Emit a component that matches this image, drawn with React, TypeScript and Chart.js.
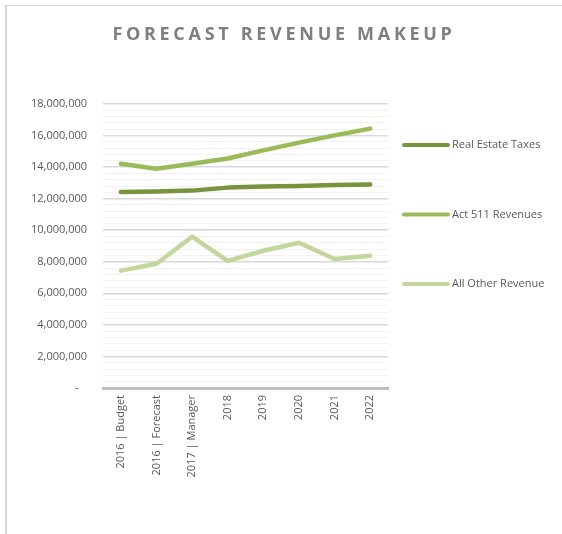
import React, { useEffect, useRef } from "react";
import { Chart, registerables } from "chart.js";

Chart.register(...registerables);

const categories = [
  "2016 | Budget",
  "2016 | Forecast",
  "2017 | Manager",
  "2018",
  "2019",
  "2020",
  "2021",
  "2022",
];
const realEstateTaxes = [12430000, 12450000, 12510000, 12700000, 12770000, 12810000, 12870000, 12890000];
const act511Revenues = [14210000, 13890000, 14210000, 14550000, 15060000, 15550000, 16010000, 16440000];
const allOtherRevenue = [7440000, 7870000, 9590000, 8060000, 8700000, 9210000, 8180000, 8380000];
const seriesNames = ["Real Estate Taxes", "Act 511 Revenues", "All Other Revenue"];
const seriesColors = ["#77933C", "#9BBB59", "#C3D69B"];
const yMax = 18000000;
const yMajorStep = 2000000;
const yMinorStep = 400000;
const titleText = "FORECAST REVENUE MAKEUP";

const FONT = "'Open Sans', sans-serif";

const titlePlugin = {
  id: "customTitle",
  afterDraw(chart: any) {
    const ctx = chart.ctx;
    ctx.save();
    ctx.font = `700 18px ${FONT}`;
    ctx.fillStyle = "#7F7F7F";
    ctx.textAlign = "center";
    ctx.textBaseline = "middle";
    (ctx as any).letterSpacing = "3.7px";
    ctx.fillText(titleText, chart.width / 2 + 3, 35);
    ctx.restore();
  },
};

const legendPlugin = {
  id: "customLegend",
  afterDraw(chart: any) {
    const ctx = chart.ctx;
    const area = chart.chartArea;
    ctx.save();
    ctx.font = `11px ${FONT}`;
    ctx.textBaseline = "middle";
    ctx.textAlign = "left";
    chart.data.datasets.forEach((ds: any, i: number) => {
      const y = area.top + 41 + i * 69.5;
      const x0 = area.right + 16;
      ctx.strokeStyle = ds.borderColor;
      ctx.lineWidth = 4;
      ctx.lineCap = "round";
      ctx.beginPath();
      ctx.moveTo(x0, y);
      ctx.lineTo(x0 + 44, y);
      ctx.stroke();
      ctx.fillStyle = "#595959";
      ctx.fillText(ds.label, x0 + 48, y);
    });
    ctx.restore();
  },
};

export default function App() {
  const ref = useRef<HTMLCanvasElement | null>(null);
  useEffect(() => {
    if (!ref.current) return;
    const data = [realEstateTaxes, act511Revenues, allOtherRevenue];
    const chart = new Chart(ref.current, {
      type: "line",
      data: {
        labels: categories,
        datasets: data.map((d, i) => ({
          label: seriesNames[i],
          data: d,
          borderColor: seriesColors[i],
          backgroundColor: seriesColors[i],
          borderWidth: 4.5,
          pointRadius: 0,
          tension: 0,
          borderCapStyle: "round" as const,
          borderJoinStyle: "round" as const,
        })),
      },
      options: {
        animation: false,
        responsive: false,
        maintainAspectRatio: false,
        layout: { padding: { top: 104, right: 174, left: 0, bottom: 0 } },
        plugins: {
          legend: { display: false },
          title: { display: false },
          tooltip: { enabled: false },
        },
        scales: {
          x: {
            offset: true,
            grid: { display: false, drawTicks: false },
            border: { display: true, color: "#BFBFBF", width: 3 },
            ticks: {
              autoSkip: false,
              maxRotation: 90,
              minRotation: 90,
              padding: 7,
              color: "#595959",
              font: { family: FONT, size: 11 },
            },
            afterFit: (s: any) => {
              s.height = 146;
            },
          },
          y: {
            min: 0,
            max: yMax,
            border: { display: false },
            grid: {
              drawTicks: false,
              color: (c: any) => {
                const v = c.tick ? c.tick.value : 0;
                if (v === 0) return "rgba(0,0,0,0)";
                return v % yMajorStep === 0 ? "#D9D9D9" : "#F2F2F2";
              },
              lineWidth: (c: any) => {
                const v = c.tick ? c.tick.value : 0;
                return v % yMajorStep === 0 ? 1.5 : 1;
              },
            },
            ticks: {
              stepSize: yMinorStep,
              autoSkip: false,
              padding: 16,
              color: "#595959",
              font: { family: FONT, size: 11 },
              callback: (v: any) => {
                const n = Number(v);
                if (Math.round(n) % yMajorStep !== 0) return "";
                if (n === 0) return "-   ";
                return n.toLocaleString("en-US");
              },
            },
            afterFit: (s: any) => {
              s.width = 103;
            },
          },
        },
      },
      plugins: [titlePlugin, legendPlugin],
    });
    return () => chart.destroy();
  }, []);

  return (
    <div style={{ position: "fixed", left: 0, top: 0, width: 562, height: 534, background: "#fff" }}>
      <div
        style={{
          position: "absolute",
          left: 5,
          top: 5,
          width: 560,
          height: 532,
          borderTop: "1px solid #D9D9D9",
          borderLeft: "2px solid #D9D9D9",
          boxSizing: "border-box",
        }}
      />
      <canvas ref={ref} width={562} height={534} style={{ position: "absolute", left: 0, top: 0 }} />
    </div>
  );
}
